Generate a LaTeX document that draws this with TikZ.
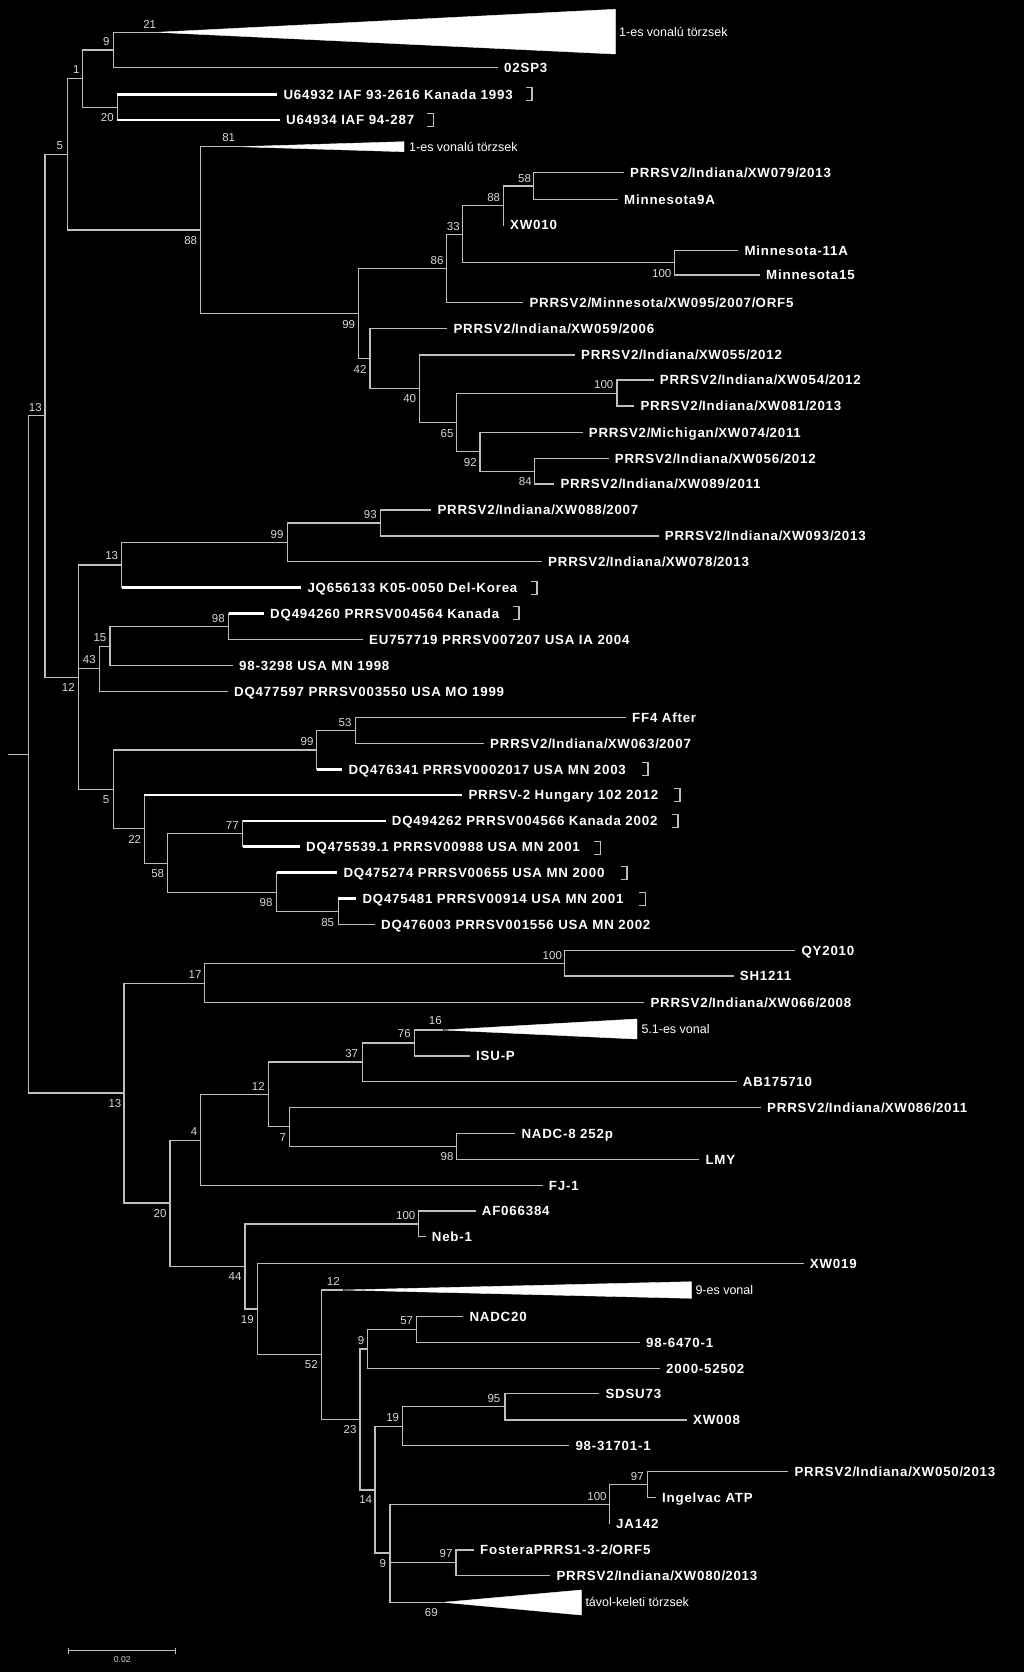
\documentclass[tikz,border=0pt]{standalone}
\usepackage{fontspec}
\setmainfont{Liberation Sans}
\newfontfamily\labfont[LetterSpace=6,BoldFont={Liberation Sans Bold}]{Liberation Sans}
\definecolor{linegrey}{RGB}{190,190,190}
\definecolor{bootgrey}{RGB}{215,215,215}
\begin{document}
\begin{tikzpicture}[x=1pt,y=-1pt,
  br/.style={draw=linegrey,line width=1.2pt},
  hl/.style={draw=white,line width=2.8pt},
  brk/.style={draw=linegrey,line width=1.1pt},
  leaf/.style={anchor=west,xshift=-6pt,inner xsep=6pt,inner ysep=0pt,text height=9.5pt,text depth=0pt,text=white,font={\labfont\bfseries\fontsize{13.3}{13.3}\selectfont}},
  boot/.style={inner sep=0pt,text=bootgrey,font={\fontsize{11.5}{12}\selectfont}},
  clade/.style={anchor=west,inner sep=0pt,text height=9pt,text depth=0pt,text=white,font={\fontsize{12.5}{13}\selectfont}},
  tri/.style={fill=white,draw=white,line width=0.4pt}]
\fill[black] (0,0) rectangle (1024,1672);
\useasboundingbox (0,0) rectangle (1024,1672);

% internal nodes
\foreach \n/\x/\y in {root/28.3/754.2, stub/8.3/754.2, nA13/45/415.7, n5/67.3/154.2, n1/82.7/78.3, n9/113.3/50, n20/117.3/107.2,
 n88a/200.7/230, n99a/358.3/313.3, n86/446.7/268.5, n33/462.7/234.3, n88b/503.3/205.8, n58/533.7/186, n100a/674.3/262.8,
 n42/370/358.3, n40/419.3/388.5, n65/456.7/422.6, n100b/617/393.2, n92/480/451.8, n84/534.7/471.1,
 n12a/78.3/677.3, n13b/121.7/565, n99b/287.3/542.5, n93/380.7/523, n43/99.3/668.5, n15/110/646.2, n98a/228.7/626.3,
 n5b/113.3/789.3, n99c/316.7/750, n53/355.7/730.3, n22/144.3/828.8, n58b/167.7/863.2, n77/242.7/833.8, n98b/276.7/892.2, n85/338.3/911.3,
 n13c/124/1093, n17/204.7/983.3, n100c/564.7/963.3, n20b/170/1203, n4/200.7/1140.3, n12b/268.3/1094.8, n37/362.3/1062, n76/414.3/1043,
 n7/289.3/1126.8, n98c/456.7/1146.3, n44/245/1266.7, n100d/418.3/1224, n19/257.3/1309, n52/321.7/1354.5, n23/360/1419.5,
 n9b/367.7/1349, n57/416.7/1329.5, n14/375/1490, n19b/402.7/1426.6, n95/505/1406.8, n9c/390/1553, n100e/609.3/1504.2,
 n97a/647.7/1484.5, n97b/456/1562.8,
 t1/157/32.3, t2/240/146.7, t3/443.3/1030, t4/343/1290, t5/443.3/1602.3}
 {\coordinate (\n) at (\x,\y);}

% collapsed clades
\fill[tri] (t1) -- (615.3,9.3) -- (615.3,54) -- cycle;
\fill[tri] (t2) -- (404,141.7) -- (404,151.7) -- cycle;
\fill[tri] (t3) -- (637,1019) -- (637,1039) -- cycle;
\fill[tri] (t4) -- (691.3,1281.7) -- (691.3,1298.3) -- cycle;
\fill[tri] (t5) -- (581.3,1590) -- (581.3,1615) -- cycle;
\node[clade] (c1) at (619,32.3) {1-es vonalú törzsek};
\node[clade] (c2) at (409,146.7) {1-es vonalú törzsek};
\node[clade] (c3) at (641.3,1029.3) {5.1-es vonal};
\node[clade] (c4) at (695.3,1290) {9-es vonal};
\node[clade] (c5) at (585.3,1602) {távol-keleti törzsek};

% leaves
\foreach \n/\x/\y/\t in {
 l02SP3/504/67.7/02SP3, lU32/283.3/94.3/U64932 IAF 93-2616 Kanada 1993, lU34/286/120/U64934 IAF 94-287,
 lXW079/630/172.7/PRRSV2\slash Indiana\slash XW079\slash 2013, lMinA/624/199.3/Minnesota9A, lXW010/510/225/XW010,
 lMinB/744.3/250.7/Minnesota-11A, lMinC/766/275/Minnesota15,
 lXW095/529.3/302.7/PRRSV2\slash Minnesota\slash XW095\slash 2007\slash ORF5,
 lXW059/453.3/328.3/PRRSV2\slash Indiana\slash XW059\slash 2006, lXW055/581/355/PRRSV2\slash Indiana\slash XW055\slash 2012,
 lXW054/659.7/380/PRRSV2\slash Indiana\slash XW054\slash 2012, lXW081/640.3/406/PRRSV2\slash Indiana\slash XW081\slash 2013,
 lXW074/588.7/432.7/PRRSV2\slash Michigan\slash XW074\slash 2011, lXW056/614.7/458.3/PRRSV2\slash Indiana\slash XW056\slash 2012,
 lXW089/560.3/484/PRRSV2\slash Indiana\slash XW089\slash 2011, lXW088/437.3/510/PRRSV2\slash Indiana\slash XW088\slash 2007,
 lXW093/664.7/536/PRRSV2\slash Indiana\slash XW093\slash 2013, lXW078/548/561.7/PRRSV2\slash Indiana\slash XW078\slash 2013,
 lJQ/307.3/587.7/JQ656133 K05-0050 Del-Korea, lDQa/270/613.3/DQ494260 PRRSV004564 Kanada,
 lEU/369/639.3/EU757719 PRRSV007207 USA IA 2004, lNA/239/665.7/98-3298 USA MN 1998,
 lDQb/234/691.7/DQ477597 PRRSV003550 USA MO 1999, lFF/632/717.3/FF4 After,
 lXW063/490/743.3/PRRSV2\slash Indiana\slash XW063\slash 2007, lDQc/348.3/769.3/DQ476341 PRRSV0002017 USA MN 2003,
 lHun/468.3/795/PRRSV-2 Hungary 102 2012, lDQd/391.7/821/DQ494262 PRRSV004566 Kanada 2002,
 lDQe/306/846.7/DQ475539.1 PRRSV00988 USA MN 2001, lDQf/343.3/872.7/DQ475274 PRRSV00655 USA MN 2000,
 lDQg/362.3/898.3/DQ475481 PRRSV00914 USA MN 2001, lDQh/381/924.3/DQ476003 PRRSV001556 USA MN 2002,
 lQY/801.3/950.7/QY2010, lSH/739.7/976/SH1211, lXW066/650.3/1002.7/PRRSV2\slash Indiana\slash XW066\slash 2008,
 lISU/476/1056/ISU-P, lAB/742.7/1081.7/AB175710, lXW086/767/1107.7/PRRSV2\slash Indiana\slash XW086\slash 2011,
 lNADCa/521.3/1133.3/NADC-8 252p, lLMY/705.3/1159.3/LMY, lFJ/548.7/1185.7/FJ-1, lAF/481.7/1211/AF066384,
 lNeb/431.7/1236.7/Neb-1, lXW019/809.7/1263.3/XW019, lNADCb/469.3/1316.7/NADC20, lNB/646/1342.3/98-6470-1,
 lNC/666/1368.3/2000-52502, lSDSU/605.3/1393.7/SDSU73, lXW008/693/1420/XW008, lND/575.3/1445.7/98-31701-1,
 lXW050/794.3/1471.7/PRRSV2\slash Indiana\slash XW050\slash 2013, lIng/662/1497.3/Ingelvac ATP, lJA/616/1523.3/JA142,
 lFost/480/1550/FosteraPRRS1-3-2\slash ORF5, lXW080/556.3/1575.7/PRRSV2\slash Indiana\slash XW080\slash 2013}
 {\node[leaf] (\n) at (\x,\y) {\t};}

% branches between internal nodes / clade apexes
\draw[br] (stub) -- (root);
\foreach \p/\c in {root/nA13, root/n13c, nA13/n5, nA13/n12a, n5/n1, n5/n88a, n1/n9, n1/n20, n9/t1,
 n88a/t2, n88a/n99a, n99a/n86, n99a/n42, n86/n33, n33/n88b, n33/n100a, n88b/n58, n42/n40, n40/n65,
 n65/n100b, n65/n92, n92/n84, n12a/n13b, n12a/n43, n12a/n5b, n13b/n99b, n99b/n93, n43/n15, n15/n98a,
 n5b/n99c, n5b/n22, n99c/n53, n22/n58b, n58b/n77, n58b/n98b, n98b/n85,
 n13c/n17, n13c/n20b, n17/n100c, n20b/n4, n20b/n44, n4/n12b, n12b/n37, n12b/n7, n37/n76, n76/t3,
 n7/n98c, n44/n100d, n44/n19, n19/n52, n52/t4, n52/n23, n23/n9b, n23/n14, n9b/n57, n14/n19b, n14/n9c,
 n19b/n95, n9c/n100e, n9c/n97b, n9c/t5, n100e/n97a}
 {\draw[br] (\p) |- (\c);}

% branches to leaves
\foreach \p/\c in {n9/l02SP3, n58/lXW079, n58/lMinA, n88b/lXW010, n100a/lMinB, n100a/lMinC, n86/lXW095,
 n42/lXW059, n40/lXW055, n100b/lXW054, n100b/lXW081, n92/lXW074, n84/lXW056, n84/lXW089,
 n93/lXW088, n93/lXW093, n99b/lXW078, n98a/lEU, n15/lNA, n43/lDQb, n53/lFF, n53/lXW063, n85/lDQh,
 n100c/lQY, n100c/lSH, n17/lXW066, n76/lISU, n37/lAB, n7/lXW086, n98c/lNADCa, n98c/lLMY, n4/lFJ,
 n100d/lAF, n100d/lNeb, n19/lXW019, n57/lNADCb, n57/lNB, n9b/lNC, n95/lSDSU, n95/lXW008, n19b/lND,
 n97a/lXW050, n97a/lIng, n100e/lJA, n97b/lFost, n97b/lXW080}
 {\draw[br] (\p) |- (\c.west);}

% highlighted (thick) branches
\foreach \p/\c in {n20/lU32, n20/lU34, n13b/lJQ, n98a/lDQa, n99c/lDQc, n22/lHun, n77/lDQd, n77/lDQe, n98b/lDQf, n85/lDQg}
 {\draw[br] (\p) |- (\c.west); \draw[hl] (\p |- \c.west) -- (\c.west);}

% brackets
\foreach \x/\y in {532/93.7, 433.3/120, 537/588, 519/613, 648/769, 680/795, 678/821, 600.3/848, 627/873, 645.3/899}
 {\draw[brk] (\x-6,\y-6.5) -- (\x,\y-6.5) -- (\x,\y+6.5) -- (\x-6,\y+6.5);}

% bootstrap values
\foreach \x/\y/\t [count=\i] in {149.7/24/21, 106.3/42/9, 76.3/70/1, 107.3/117.3/20, 59.7/145.7/5, 228.7/137.7/81,
 190.7/240.7/88, 493.7/197.3/88, 453.3/226.7/33, 437/260.7/86, 524.5/178.3/58, 661.7/274/100, 348.7/324.3/99,
 360/369/42, 409.7/399/40, 447/433.3/65, 470.3/462.3/92, 370.3/515/93, 277/534.3/99, 111.7/556/13, 35.3/407.7/13,
 603.7/385/100, 525.3/481.7/84, 218.3/618.3/98, 100/637.7/15, 89.3/660/43, 68.3/687.7/12, 345/722.3/53,
 307/741.7/99, 106/799.3/5, 232.3/825.7/77, 134.7/839/22, 157.7/873.3/58, 266/902.7/98, 327.7/922.7/85,
 195/975/17, 435.3/1021/16, 404.3/1034/76, 351.7/1054/37, 258.3/1086.7/12, 115/1104/13, 552.3/956/100,
 194/1131.7/4, 282.7/1137.7/7, 447/1156.7/98, 160/1213.3/20, 405.7/1216/100, 235/1276.7/44, 333.3/1281.7/12,
 247.3/1320/19, 406.7/1321/57, 361/1340.7/9, 311.3/1365/52, 493.9/1398.4/95, 392.7/1417.7/19, 350/1430/23,
 365.7/1500/14, 382.7/1563.3/9, 446/1554/97, 431.3/1612.7/69, 637.3/1476.7/97, 597/1496.7/100}
 {\node[boot] (b\i) at (\x,\y) {\t};}

% scale bar
\coordinate (s1) at (68.3,1650.7);
\coordinate (s2) at (175,1650.7);
\draw[br,line width=1pt] (s1) -- (s2);
\draw[br,line width=1pt] ([yshift=3pt]s1) -- ([yshift=-3pt]s1);
\draw[br,line width=1pt] ([yshift=3pt]s2) -- ([yshift=-3pt]s2);
\node[inner sep=0pt,text=bootgrey,font={\fontsize{8.6}{9}\selectfont}] (sl) at (122.3,1659.3) {0.02};
\end{tikzpicture}
\end{document}
